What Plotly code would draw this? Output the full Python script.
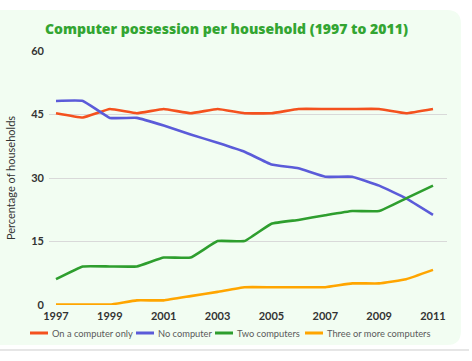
import plotly.graph_objects as go

years = list(range(1997, 2012))
one_computer = [45.3, 44.3, 46.3, 45.3, 46.3, 45.3, 46.3, 45.3, 45.3, 46.3, 46.3, 46.3, 46.3, 45.3, 46.3]
no_computer = [48.2, 48.2, 44.2, 44.2, 42.4, 40.3, 38.3, 36.2, 33.2, 32.3, 30.3, 30.3, 28.2, 25.2, 21.3]
two_computers = [6.1, 9.1, 9.1, 9.1, 11.2, 11.2, 15.1, 15.1, 19.2, 20.1, 21.2, 22.2, 22.2, 25.2, 28.2]
three_plus = [0.1, 0.1, 0.1, 1.1, 1.1, 2.1, 3.1, 4.2, 4.2, 4.2, 4.2, 5.1, 5.1, 6.1, 8.3]

series_names = ["On a computer only", "No computer", "Two computers", "Three or more computers"]
series_values = [one_computer, no_computer, two_computers, three_plus]
series_colors = ["#f4511e", "#5b5bd9", "#2e9e2e", "#ffa500"]
x_ticks = [1997, 1999, 2001, 2003, 2005, 2007, 2009, 2011]
y_ticks = [0, 15, 30, 45, 60]

fig = go.Figure()
for name, vals, col in zip(series_names, series_values, series_colors):
    fig.add_trace(go.Scatter(x=years, y=vals, name=name, mode="lines",
                             line=dict(color=col, width=2.6, shape="spline", smoothing=0.3)))

W, H = 472, 361
L, R, T, B = 49, 25, 51, 56
pw, ph = W - L - R, H - T - B

def px(x):
    return (x - L) / pw

def py(y):
    return (H - B - y) / ph

# rounded panel
x0, x1, y0, y1, r = -2, 461, 10, 345, 14
path = (f"M {px(x0)},{py(y0)} L {px(x1 - r)},{py(y0)} "
        f"Q {px(x1)},{py(y0)} {px(x1)},{py(y0 + r)} "
        f"L {px(x1)},{py(y1 - r)} Q {px(x1)},{py(y1)} {px(x1 - r)},{py(y1)} "
        f"L {px(x0)},{py(y1)} Z")
shadow = (f"M {px(x0)},{py(y1 + 5)} L {px(x1 + 8)},{py(y1 + 5)}")

shapes = [
    dict(type="path", path=path, xref="paper", yref="paper",
         fillcolor="#f2fdf2", line=dict(width=0), layer="below"),
    dict(type="path", path=shadow, xref="paper", yref="paper",
         line=dict(color="#e6e6e6", width=2), layer="below"),
]
annotations = []

# legend (custom, compact swatches like the reference)
leg_y = 333
leg_x = [30, 136, 215, 305]
for lx, name, col in zip(leg_x, series_names, series_colors):
    shapes.append(dict(type="line", xref="paper", yref="paper",
                       x0=px(lx), x1=px(lx + 18), y0=py(leg_y), y1=py(leg_y),
                       line=dict(color=col, width=3)))
    annotations.append(dict(text=name, xref="paper", yref="paper",
                            x=px(lx + 19.5), y=py(leg_y), xanchor="left", yanchor="middle",
                            showarrow=False,
                            font=dict(family="Lato", size=9.3, color="#5a5a5a")))

fig.update_layout(
    width=W, height=H,
    margin=dict(l=L, r=R, t=T, b=B, autoexpand=False),
    paper_bgcolor="white",
    plot_bgcolor="rgba(0,0,0,0)",
    shapes=shapes,
    annotations=annotations,
    showlegend=False,
    title=dict(text="Computer possession per household (1997 to 2011)",
               xref="container", x=226.5 / W, xanchor="center",
               yref="container", y=1 - 29 / H, yanchor="middle",
               font=dict(family="Open Sans", size=14, weight=800, color="#33a532")),
    xaxis=dict(range=[1996.74, 2011.52], tickvals=x_ticks,
               ticktext=[f"<b>{v}</b>" for v in x_ticks], automargin=False,
               showgrid=False, zeroline=False, showline=False, ticks="",
               ticklabelstandoff=3,
               tickfont=dict(family="Lato", size=11, color="#333")),
    yaxis=dict(range=[0, 60], tickvals=y_ticks,
               ticktext=[f"<b>{v}</b>" for v in y_ticks], automargin=False,
               showgrid=True, gridcolor="#d9d9d9", gridwidth=1,
               zeroline=False, showline=False, ticks="", ticklabelstandoff=4,
               tickfont=dict(family="Lato", size=11, color="#333"),
               title=dict(text="Percentage of households", standoff=13,
                          font=dict(family="Lato", size=11, color="#333"))),
)

fig.write_html("out.html")
